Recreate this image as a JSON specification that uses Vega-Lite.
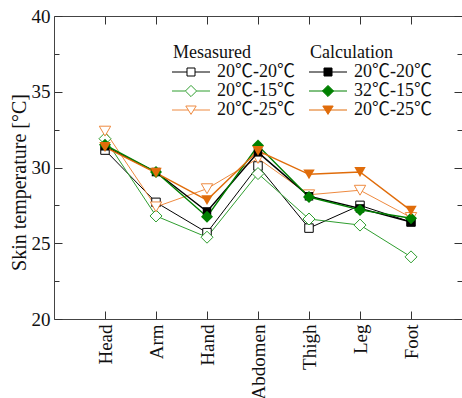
{
  "$schema": "https://vega.github.io/schema/vega-lite/v6.json",
  "width": 408,
  "height": 303,
  "autosize": {"type": "none"},
  "padding": {"left": 54, "top": 16, "right": 0, "bottom": 79},
  "background": "white",
  "config": {
    "view": {"stroke": null},
    "font": "Liberation Serif",
    "axis": {
      "grid": false,
      "domain": true,
      "domainColor": "#444",
      "tickColor": "#333",
      "labelColor": "#111",
      "labelFont": "Liberation Serif",
      "labelFontSize": 19,
      "titleFont": "Liberation Serif",
      "titleFontWeight": "normal",
      "titleColor": "#111",
      "labelOverlap": false
    },
    "legend": {
      "orient": "none",
      "titleFont": "Liberation Serif",
      "titleFontSize": 18,
      "titleFontWeight": "normal",
      "titleColor": "#111",
      "labelFont": "Liberation Serif, Noto Sans CJK JP",
      "labelFontSize": 18,
      "labelColor": "#111",
      "symbolSize": 64,
      "symbolStrokeWidth": 1,
      "symbolOpacity": 1,
      "labelOffset": 26,
      "rowPadding": 1,
      "titlePadding": 1,
      "padding": 0
    }
  },
  "datasets": {
    "measured": [
      {"part": "Head", "i": 0, "cond": "20℃-20℃", "t": 31.15},
      {"part": "Arm", "i": 1, "cond": "20℃-20℃", "t": 27.7},
      {"part": "Hand", "i": 2, "cond": "20℃-20℃", "t": 25.7},
      {"part": "Abdomen", "i": 3, "cond": "20℃-20℃", "t": 30.1},
      {"part": "Thigh", "i": 4, "cond": "20℃-20℃", "t": 26.0},
      {"part": "Leg", "i": 5, "cond": "20℃-20℃", "t": 27.5},
      {"part": "Foot", "i": 6, "cond": "20℃-20℃", "t": 26.4},
      {"part": "Head", "i": 0, "cond": "20℃-15℃", "t": 31.9},
      {"part": "Arm", "i": 1, "cond": "20℃-15℃", "t": 26.8},
      {"part": "Hand", "i": 2, "cond": "20℃-15℃", "t": 25.4},
      {"part": "Abdomen", "i": 3, "cond": "20℃-15℃", "t": 29.6},
      {"part": "Thigh", "i": 4, "cond": "20℃-15℃", "t": 26.6},
      {"part": "Leg", "i": 5, "cond": "20℃-15℃", "t": 26.2},
      {"part": "Foot", "i": 6, "cond": "20℃-15℃", "t": 24.1},
      {"part": "Head", "i": 0, "cond": "20℃-25℃", "t": 32.4},
      {"part": "Arm", "i": 1, "cond": "20℃-25℃", "t": 27.4},
      {"part": "Hand", "i": 2, "cond": "20℃-25℃", "t": 28.6},
      {"part": "Abdomen", "i": 3, "cond": "20℃-25℃", "t": 30.6},
      {"part": "Thigh", "i": 4, "cond": "20℃-25℃", "t": 28.2},
      {"part": "Leg", "i": 5, "cond": "20℃-25℃", "t": 28.5},
      {"part": "Foot", "i": 6, "cond": "20℃-25℃", "t": 26.7}
    ],
    "calculation": [
      {"part": "Head", "i": 0, "cond": "20℃-20℃", "t": 31.4},
      {"part": "Arm", "i": 1, "cond": "20℃-20℃", "t": 29.7},
      {"part": "Hand", "i": 2, "cond": "20℃-20℃", "t": 27.1},
      {"part": "Abdomen", "i": 3, "cond": "20℃-20℃", "t": 31.0},
      {"part": "Thigh", "i": 4, "cond": "20℃-20℃", "t": 28.1},
      {"part": "Leg", "i": 5, "cond": "20℃-20℃", "t": 27.3},
      {"part": "Foot", "i": 6, "cond": "20℃-20℃", "t": 26.4},
      {"part": "Head", "i": 0, "cond": "32℃-15℃", "t": 31.5},
      {"part": "Arm", "i": 1, "cond": "32℃-15℃", "t": 29.7},
      {"part": "Hand", "i": 2, "cond": "32℃-15℃", "t": 26.75},
      {"part": "Abdomen", "i": 3, "cond": "32℃-15℃", "t": 31.45},
      {"part": "Thigh", "i": 4, "cond": "32℃-15℃", "t": 28.05},
      {"part": "Leg", "i": 5, "cond": "32℃-15℃", "t": 27.2},
      {"part": "Foot", "i": 6, "cond": "32℃-15℃", "t": 26.65},
      {"part": "Head", "i": 0, "cond": "20℃-25℃", "t": 31.35},
      {"part": "Arm", "i": 1, "cond": "20℃-25℃", "t": 29.65},
      {"part": "Hand", "i": 2, "cond": "20℃-25℃", "t": 27.85},
      {"part": "Abdomen", "i": 3, "cond": "20℃-25℃", "t": 31.1},
      {"part": "Thigh", "i": 4, "cond": "20℃-25℃", "t": 29.55},
      {"part": "Leg", "i": 5, "cond": "20℃-25℃", "t": 29.7},
      {"part": "Foot", "i": 6, "cond": "20℃-25℃", "t": 27.15}
    ]
  },
  "layer": [
    {
      "data": {"name": "measured"},
      "encoding": {
        "x": {
          "field": "part", "type": "nominal",
          "scale": {"type": "point", "domain": ["Head", "Arm", "Hand", "Abdomen", "Thigh", "Leg", "Foot"], "padding": 1},
          "axis": {
            "orient": "bottom", "title": null, "labelAngle": -90, "labelAlign": "right", "labelBaseline": "middle",
            "tickSize": -8, "labelPadding": 13
          }
        },
        "y": {
          "field": "t", "type": "quantitative",
          "scale": {"domain": [20, 40], "nice": false, "zero": false},
          "axis": {
            "orient": "left",
            "title": "Skin temperature [°C]",
            "titleFontSize": 20,
            "titleX": -25,
            "titleY": 166,
            "titleBaseline": "bottom",
            "values": [20, 22.5, 25, 27.5, 30, 32.5, 35, 37.5, 40],
            "labelExpr": "datum.value % 5 === 0 ? format(datum.value, 'd') : ''",
            "tickSize": {"expr": "datum.value % 5 === 0 ? -8 : -5"},
            "labelPadding": 12
          }
        },
        "order": {"field": "i", "type": "quantitative"},
        "color": {
          "field": "cond", "type": "nominal",
          "scale": {"domain": ["20℃-20℃", "20℃-15℃", "20℃-25℃"], "range": ["#000000", "#2f9e2f", "#ee8a40"]},
          "legend": {"title": "Mesasured", "legendX": 119, "legendY": 28, "symbolFillColor": "white"}
        }
      },
      "layer": [
        {"mark": {"type": "line", "strokeWidth": 1}},
        {
          "transform": [{"filter": "datum.cond === '20℃-20℃'"}],
          "mark": {"type": "point", "shape": "square", "size": 72, "filled": false, "fill": "white", "opacity": 1, "strokeWidth": 1}
        },
        {
          "transform": [{"filter": "datum.cond === '20℃-15℃'"}],
          "mark": {"type": "point", "shape": "diamond", "size": 144, "filled": false, "fill": "white", "opacity": 1, "strokeWidth": 1}
        },
        {
          "transform": [{"filter": "datum.cond === '20℃-25℃'"}],
          "mark": {"type": "point", "shape": "triangle-down", "size": 130, "filled": false, "fill": "white", "opacity": 1, "strokeWidth": 1}
        },
        {
          "transform": [{"filter": "false"}],
          "mark": {"type": "point", "filled": false, "fill": "white", "strokeWidth": 1},
          "encoding": {
            "shape": {
              "field": "cond", "type": "nominal",
              "scale": {
                "domain": ["20℃-20℃", "20℃-15℃", "20℃-25℃"],
                "range": [
                  "M-2.5,0H1.25M3.25,0H7M1.25,-1H3.25V1H1.25Z",
                  "M-2.5,0H0.85M3.65,0H7M2.25,-1.4L3.65,0L2.25,1.4L0.85,0Z",
                  "M-2.5,0H1.57M2.93,0H7M0.95,-1H3.55L2.25,1.1Z"
                ]
              },
              "legend": {"title": "Mesasured", "legendX": 119, "legendY": 28, "symbolFillColor": "white"}
            }
          }
        }
      ]
    },
    {
      "data": {"name": "calculation"},
      "encoding": {
        "x": {
          "field": "part", "type": "nominal",
          "scale": {"type": "point", "domain": ["Head", "Arm", "Hand", "Abdomen", "Thigh", "Leg", "Foot"], "padding": 1},
          "axis": {"orient": "top", "title": null, "labels": false, "tickSize": -8}
        },
        "y": {
          "field": "t", "type": "quantitative",
          "scale": {"domain": [20, 40], "nice": false, "zero": false},
          "axis": {
            "orient": "right", "title": null, "labels": false,
            "values": [20, 22.5, 25, 27.5, 30, 32.5, 35, 37.5, 40],
            "tickSize": {"expr": "datum.value % 5 === 0 ? -8 : -5"}
          }
        },
        "order": {"field": "i", "type": "quantitative"},
        "color": {
          "field": "cond", "type": "nominal",
          "scale": {"domain": ["20℃-20℃", "32℃-15℃", "20℃-25℃"], "range": ["#000000", "#008000", "#e06c0a"]},
          "legend": {"title": "Calculation", "legendX": 256, "legendY": 28}
        }
      },
      "layer": [
        {"mark": {"type": "line", "strokeWidth": 1.4}},
        {
          "transform": [{"filter": "datum.cond === '20℃-20℃'"}],
          "mark": {"type": "point", "shape": "square", "size": 72, "filled": true, "opacity": 1}
        },
        {
          "transform": [{"filter": "datum.cond === '32℃-15℃'"}],
          "mark": {"type": "point", "shape": "diamond", "size": 144, "filled": true, "opacity": 1}
        },
        {
          "transform": [{"filter": "datum.cond === '20℃-25℃'"}],
          "mark": {"type": "point", "shape": "triangle-down", "size": 130, "filled": true, "opacity": 1}
        },
        {
          "transform": [{"filter": "false"}],
          "mark": {"type": "point", "filled": true},
          "encoding": {
            "shape": {
              "field": "cond", "type": "nominal",
              "scale": {
                "domain": ["20℃-20℃", "32℃-15℃", "20℃-25℃"],
                "range": [
                  "M-2.5,0H7M1.25,-1H3.25V1H1.25Z",
                  "M-2.5,0H7M2.25,-1.4L3.65,0L2.25,1.4L0.85,0Z",
                  "M-2.5,0H7M0.95,-1H3.55L2.25,1.1Z"
                ]
              },
              "legend": {"title": "Calculation", "legendX": 256, "legendY": 28}
            }
          }
        }
      ]
    }
  ],
  "resolve": {
    "scale": {"color": "independent", "shape": "independent"},
    "axis": {"x": "independent", "y": "independent"}
  }
}
